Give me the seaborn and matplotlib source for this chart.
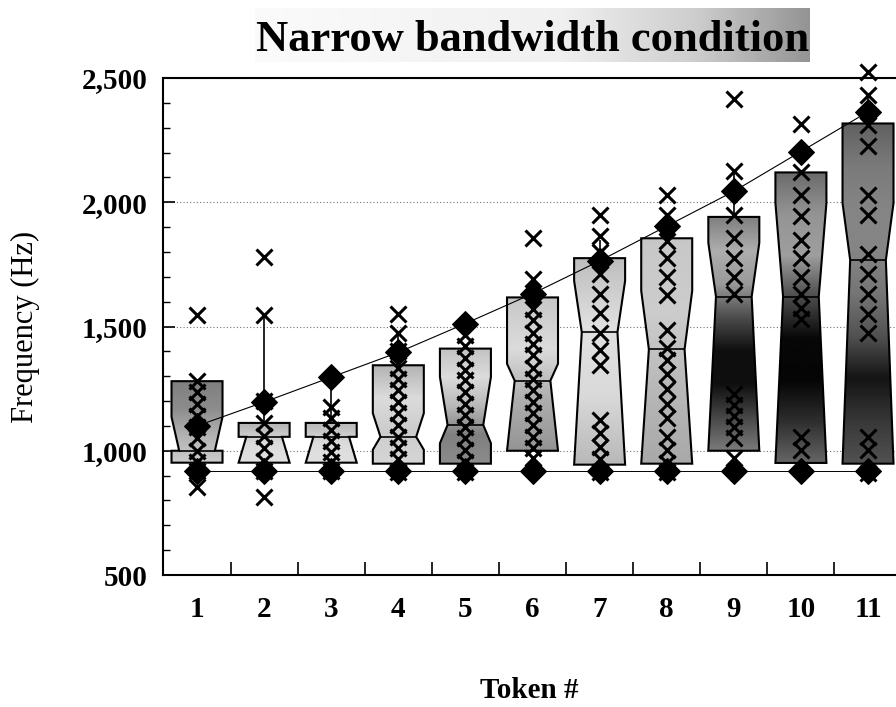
import matplotlib
matplotlib.use("Agg")
import matplotlib.pyplot as plt
import numpy as np
import pandas as pd
import seaborn as sns
from matplotlib.path import Path

# --- values -----------------------------------------------------------
TOKENS = [1, 2, 3, 4, 5, 6, 7, 8, 9, 10, 11]
TICK_LABELS = ["1", "2", "3", "4", "5", "6", "7", "8", "9", "10", "11"]
Y_TICKS = [500, 1000, 1500, 2000, 2500]
Y_TICK_LABELS = ["500", "1,000", "1,500", "2,000", "2,500"]

# box summaries (Hz)
WHISK_LO = [952, 952, 952, 948, 948, 1000, 944, 948, 1000, 951, 948]
Q1 = [952, 952, 952, 948, 948, 1000, 944, 948, 1000, 951, 948]
MEDIAN = [1000, 1056, 1056, 1056, 1104, 1282, 1477, 1408, 1620, 1620, 1767]
Q3 = [1280, 1112, 1112, 1344, 1411, 1617, 1775, 1855, 1941, 2120, 2317]
WHISK_HI = [1280, 1545, 1295, 1475, 1411, 1690, 1850, 1950, 2125, 2120, 2430]
NOTCH_LO = [1000, 952, 952, 1004, 1030, 1000, 944, 948, 1000, 951, 948]
NOTCH_HI = [1136, 1056, 1056, 1151, 1297, 1350, 1684, 1644, 1837, 1997, 1997]

# filled diamonds joined by lines
TARGET_HIGH = [1100, 1196, 1296, 1396, 1512, 1632, 1764, 1904, 2044, 2204, 2364]
TARGET_LOW = [920, 920, 920, 920, 920, 920, 920, 920, 920, 920, 920]

# individual responses (x markers), one list per token
RESP_T1 = [1545, 1280, 1235, 1190, 1140, 1095, 1050, 1000, 955, 920, 855]
RESP_T2 = [1780, 1545, 1200, 1110, 1060, 1010, 960, 920, 815]
RESP_T3 = [1175, 1130, 1085, 1040, 995, 955, 920]
RESP_T4 = [1550, 1475, 1400, 1335, 1290, 1245, 1195, 1150, 1105, 1055, 1010, 965, 915]
RESP_T5 = [1465, 1420, 1375, 1325, 1285, 1235, 1190, 1145, 1095, 1050, 1005, 955, 915]
RESP_T6 = [1855, 1690, 1570, 1525, 1475, 1430, 1385, 1335, 1290, 1245, 1195, 1150,
           1105, 1055, 1010, 970]
RESP_T7 = [1950, 1865, 1800, 1710, 1630, 1555, 1475, 1405, 1345, 1125, 1070, 1015,
           965, 915]
RESP_T8 = [2030, 1950, 1845, 1775, 1700, 1625, 1485, 1415, 1365, 1310, 1250, 1190,
           1130, 1055, 1005, 950, 915]
RESP_T9 = [2415, 2125, 1950, 1855, 1775, 1700, 1630, 1230, 1185, 1140, 1095, 1050, 970]
RESP_T10 = [2315, 2120, 2030, 1945, 1850, 1775, 1700, 1630, 1575, 1530, 1055, 1005]
RESP_T11 = [2525, 2430, 2310, 2225, 2030, 1950, 1790, 1710, 1630, 1550, 1475, 1055,
            1005, 910]

RESPONSES = [RESP_T1, RESP_T2, RESP_T3, RESP_T4, RESP_T5, RESP_T6, RESP_T7,
             RESP_T8, RESP_T9, RESP_T10, RESP_T11]

# --- styling --------------------------------------------------------------
BOX_W = 0.76
NOTCH_HALF = 0.35  # notch half width, fraction of box width
# gray shading of each box, top -> bottom (0 black, 1 white)
BOX_SHADES = [
    [0.5, 0.55, 0.7, 0.8],
    [0.7, 0.86, 0.88],
    [0.72, 0.86, 0.88],
    [0.7, 0.86, 0.8, 0.84],
    [0.76, 0.86, 0.72, 0.5, 0.55],
    [0.78, 0.86, 0.68, 0.58],
    [0.74, 0.88, 0.85, 0.72],
    [0.78, 0.8, 0.72, 0.66],
    [0.5, 0.68, 0.6, 0.3, 0.06, 0.06, 0.28, 0.48],
    [0.42, 0.58, 0.62, 0.3, 0.03, 0.02, 0.18, 0.4],
    [0.38, 0.48, 0.52, 0.52, 0.46, 0.32, 0.08, 0.22, 0.32],
]

sns.set_style("ticks")
plt.rcParams["font.family"] = ["Liberation Serif", "DejaVu Serif"]
plt.rcParams["text.color"] = "black"
plt.rcParams["axes.labelcolor"] = "black"
plt.rcParams["xtick.color"] = "black"
plt.rcParams["ytick.color"] = "black"

fig = plt.figure(figsize=(8.96, 7.07), dpi=100)
ax = fig.add_axes([163 / 896, 132 / 707, 733 / 896, 497 / 707])

# notched boxes
box_df = pd.DataFrame({
    "token": np.repeat(TOKENS, 5),
    "freq": np.column_stack([WHISK_LO, Q1, MEDIAN, Q3, WHISK_HI]).ravel(),
})
sns.boxplot(
    data=box_df, x="token", y="freq", orient="x", native_scale=True,
    width=BOX_W, notch=True, whis=(0, 100), showcaps=False,
    linecolor="black", linewidth=1.5,
    boxprops={"facecolor": "none"},
    medianprops={"visible": False},
    whiskerprops={"linewidth": 1.2},
    ax=ax,
)

boxes = list(ax.patches)
for patch, pos, lo, hi, shades, c_lo, c_hi in zip(
        boxes, TOKENS, Q1, Q3, BOX_SHADES, NOTCH_LO, NOTCH_HI):
    path = patch.get_path()
    verts = path.vertices.copy()
    verts[[2, 9], 1] = c_lo
    verts[[4, 7], 1] = c_hi
    verts[3, 0] = pos + NOTCH_HALF * BOX_W
    verts[8, 0] = pos - NOTCH_HALF * BOX_W
    new_path = Path(verts, path.codes)
    if hasattr(patch, "set_path"):
        patch.set_path(new_path)
    else:
        patch._path = new_path
    patch.set_facecolor("none")
    patch.set_zorder(3)

    grad = np.interp(np.linspace(0, 1, 256),
                     np.linspace(0, 1, len(shades)), shades)[:, None]
    im = ax.imshow(grad, extent=[pos - BOX_W / 2, pos + BOX_W / 2, lo, hi],
                   aspect="auto", cmap="gray", vmin=0, vmax=1,
                   interpolation="bilinear", zorder=1.5)
    im.set_clip_path(patch)

pos_arr = np.array(TOKENS, dtype=float)
ax.hlines(MEDIAN, pos_arr - NOTCH_HALF * BOX_W, pos_arr + NOTCH_HALF * BOX_W,
          color="black", linewidth=1.2, zorder=3.5)

# individual responses
resp_df = pd.DataFrame({
    "token": np.repeat(TOKENS, [len(r) for r in RESPONSES]),
    "freq": np.concatenate(RESPONSES),
})
sns.stripplot(
    data=resp_df, x="token", y="freq", orient="x", native_scale=True,
    jitter=False, marker="x", size=11.5, linewidth=2.2, color="black",
    zorder=4, clip_on=False, ax=ax,
)

# diamond target lines
sns.lineplot(x=TOKENS, y=TARGET_HIGH, marker="D", markersize=13, color="black",
             markeredgecolor="black", linewidth=0.8, zorder=5, ax=ax)
sns.lineplot(x=TOKENS, y=TARGET_LOW, marker="D", markersize=13, color="black",
             markeredgecolor="black", linewidth=0.7, zorder=5, ax=ax)

# axes cosmetics
ax.set_xlim(0.493, 11.417)
ax.set_ylim(500, 2500)
ax.yaxis.grid(True, linestyle=(0, (1, 2)), color="0.45", linewidth=0.8)
ax.set_axisbelow(True)

ax.set_xticks(TOKENS)
ax.set_xticklabels(TICK_LABELS, fontsize=21, fontweight="bold")
ax.set_xticks([t + 0.5 for t in TOKENS[:-1]], minor=True)
ax.tick_params(axis="x", which="major", length=0, pad=15, bottom=True)
ax.tick_params(axis="x", which="minor", direction="in", length=9.5, width=1.2,
               bottom=True)

ax.set_yticks(Y_TICKS)
ax.set_yticklabels(Y_TICK_LABELS, fontsize=21, fontweight="bold")
ax.set_yticks(list(range(500, 2501, 100)), minor=True)
ax.tick_params(axis="y", which="major", direction="in", length=8.5, width=1.2,
               pad=11, left=True)
ax.tick_params(axis="y", which="minor", direction="in", length=5, width=1.0,
               left=True)

for side in ["left", "bottom", "top"]:
    ax.spines[side].set_color("black")
    ax.spines[side].set_linewidth(1.5)
ax.spines["right"].set_visible(False)

ax.set_ylabel("Frequency (Hz)", fontsize=22)
ax.yaxis.set_label_coords(-0.168, 0.5)
ax.set_xlabel("Token #", fontsize=21, fontweight="bold")
ax.xaxis.set_label_coords(0.5, -0.205)

# title with shaded banner
banner = fig.add_axes([255 / 896, 645 / 707, 555 / 896, 54 / 707])
banner_shade = np.interp(np.linspace(0, 1, 256), [0, 0.55, 0.8, 1.0],
                         [0.98, 0.94, 0.8, 0.58])[None, :]
banner.imshow(banner_shade, aspect="auto", cmap="gray", vmin=0, vmax=1,
              interpolation="bilinear")
banner.set_axis_off()
fig.text(533 / 896, 1 - 40 / 707, "Narrow bandwidth condition", ha="center",
         va="center", fontsize=32, fontweight="bold", color="black")

fig.savefig("out.png", dpi=100)
